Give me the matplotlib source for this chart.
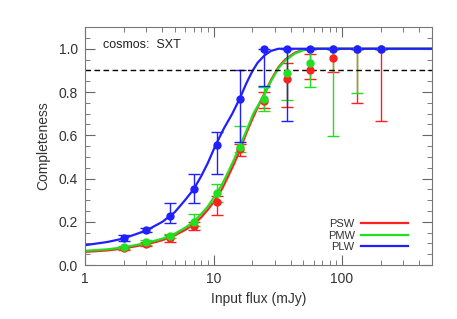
import matplotlib
matplotlib.use("Agg")
import matplotlib.pyplot as plt
from matplotlib.ticker import MultipleLocator, FixedLocator, NullFormatter

# measured points (input flux in mJy)
flux = [2, 3, 4.6, 7, 10.6, 16, 24.5, 37.5, 56, 85, 130, 200]

psw = [0.077, 0.097, 0.125, 0.180, 0.292, 0.535, 0.760, 0.862, 0.902, 0.955, 1.0, 1.0]
psw_lo = [0.068, 0.088, 0.107, 0.161, 0.230, 0.502, 0.727, 0.733, 0.860, 0.891, 0.748, 0.665]
psw_hi = [0.085, 0.105, 0.140, 0.200, 0.320, 0.560, 0.800, 0.934, 0.974, 1.0, 1.0, 1.0]

pmw = [0.084, 0.105, 0.134, 0.200, 0.332, 0.548, 0.768, 0.886, 0.932, 1.0, 1.0, 1.0]
pmw_lo = [0.075, 0.095, 0.124, 0.180, 0.290, 0.522, 0.711, 0.763, 0.825, 0.598, 0.797, 1.0]
pmw_hi = [0.090, 0.115, 0.145, 0.238, 0.376, 0.645, 0.822, 1.0, 1.0, 1.0, 1.0, 1.0]

plw = [0.126, 0.161, 0.227, 0.350, 0.553, 0.770, 0.998, 1.0, 1.0, 1.0, 1.0, 1.0]
plw_lo = [0.110, 0.152, 0.195, 0.287, 0.419, 0.568, 0.829, 0.665, 1.0, 1.0, 1.0, 1.0]
plw_hi = [0.140, 0.172, 0.289, 0.419, 0.614, 0.902, 1.0, 1.0, 1.0, 1.0, 1.0, 1.0]

# fitted curves
fit_x_red = [1, 1.5, 2, 3, 4, 5, 6, 7, 8, 9, 10, 11.6, 13, 14.5, 16, 18, 20.4, 22.3, 25, 28, 32, 36, 43, 50, 58, 500]
fit_red = [0.061, 0.068, 0.077, 0.096, 0.115, 0.138, 0.162, 0.188, 0.22, 0.255, 0.29, 0.35, 0.41, 0.47,
           0.53, 0.61, 0.685, 0.735, 0.795, 0.855, 0.915, 0.95, 0.982, 0.995, 1.0, 1.0]
fit_x_green = fit_x_red
fit_green = [0.066, 0.073, 0.082, 0.102, 0.122, 0.145, 0.172, 0.2, 0.235, 0.27, 0.31, 0.37, 0.43, 0.49,
             0.55, 0.62, 0.70, 0.74, 0.79, 0.85, 0.91, 0.945, 0.978, 0.993, 1.0, 1.0]
fit_x_blue = [1, 1.5, 2, 3, 4, 5, 6, 7, 8, 9, 10.3, 12, 14, 16, 18, 20, 22, 25, 28, 32, 500]
fit_blue = [0.092, 0.107, 0.123, 0.16, 0.2, 0.245, 0.30, 0.35, 0.41, 0.47, 0.55, 0.63, 0.70, 0.77,
            0.84, 0.895, 0.935, 0.97, 0.99, 1.0, 1.0]

plt.rcParams["font.family"] = ["Liberation Sans", "DejaVu Sans"]
gray = "#333333"

fig = plt.figure(figsize=(4.57, 3.19), dpi=100)
ax = fig.add_axes([0.186, 0.169, 0.759, 0.746])

series = [
    ("PSW", "#ff2020", psw, psw_lo, psw_hi, fit_x_red, fit_red),
    ("PMW", "#20e020", pmw, pmw_lo, pmw_hi, fit_x_green, fit_green),
    ("PLW", "#2020ff", plw, plw_lo, plw_hi, fit_x_blue, fit_blue),
]
for name, col, y, lo, hi, fx, fy in series:
    err = [[v - l for v, l in zip(y, lo)], [h - v for v, h in zip(y, hi)]]
    ax.errorbar(flux, y, yerr=err, fmt="o", color=col, ms=5, elinewidth=1,
                capsize=4, capthick=1)
    ax.plot(fx, fy, color=col, lw=1.6, label=name)

ax.axhline(0.9, color="black", ls=(0, (4, 2.5)), lw=1)

ax.set_xscale("log")
ax.set_xlim(1, 500)
ax.set_ylim(0, 1.1)
ax.yaxis.set_major_locator(FixedLocator([0, 0.2, 0.4, 0.6, 0.8, 1.0]))
ax.yaxis.set_minor_locator(MultipleLocator(0.05))
ax.set_xticks([1, 10, 100])
ax.set_xticklabels(["1", "10", "100"])
ax.xaxis.set_minor_formatter(NullFormatter())
ax.set_yticklabels(["0.0", "0.2", "0.4", "0.6", "0.8", "1.0"])

ax.tick_params(which="both", direction="in", top=True, right=True, colors="#666666",
               labelcolor=gray, labelsize=10)
ax.tick_params(which="major", length=7, pad=5)
ax.tick_params(which="minor", length=3.5)
for s in ax.spines.values():
    s.set_color("#777777")

ax.set_xlabel("Input flux (mJy)", color=gray, fontsize=10)
ax.set_ylabel("Completeness", color=gray, fontsize=10, labelpad=6)

ax.text(0.052, 0.924, "cosmos:  SXT", transform=ax.transAxes, fontsize=9,
        color="#222222", va="center")

leg = ax.legend(loc="lower right", bbox_to_anchor=(0.96, 0.012), frameon=False,
                markerfirst=False, fontsize=8, handlelength=4.2, labelspacing=0.15,
                handletextpad=0.6)
for t in leg.get_texts():
    t.set_color(gray)

fig.savefig("out.png", dpi=100)
